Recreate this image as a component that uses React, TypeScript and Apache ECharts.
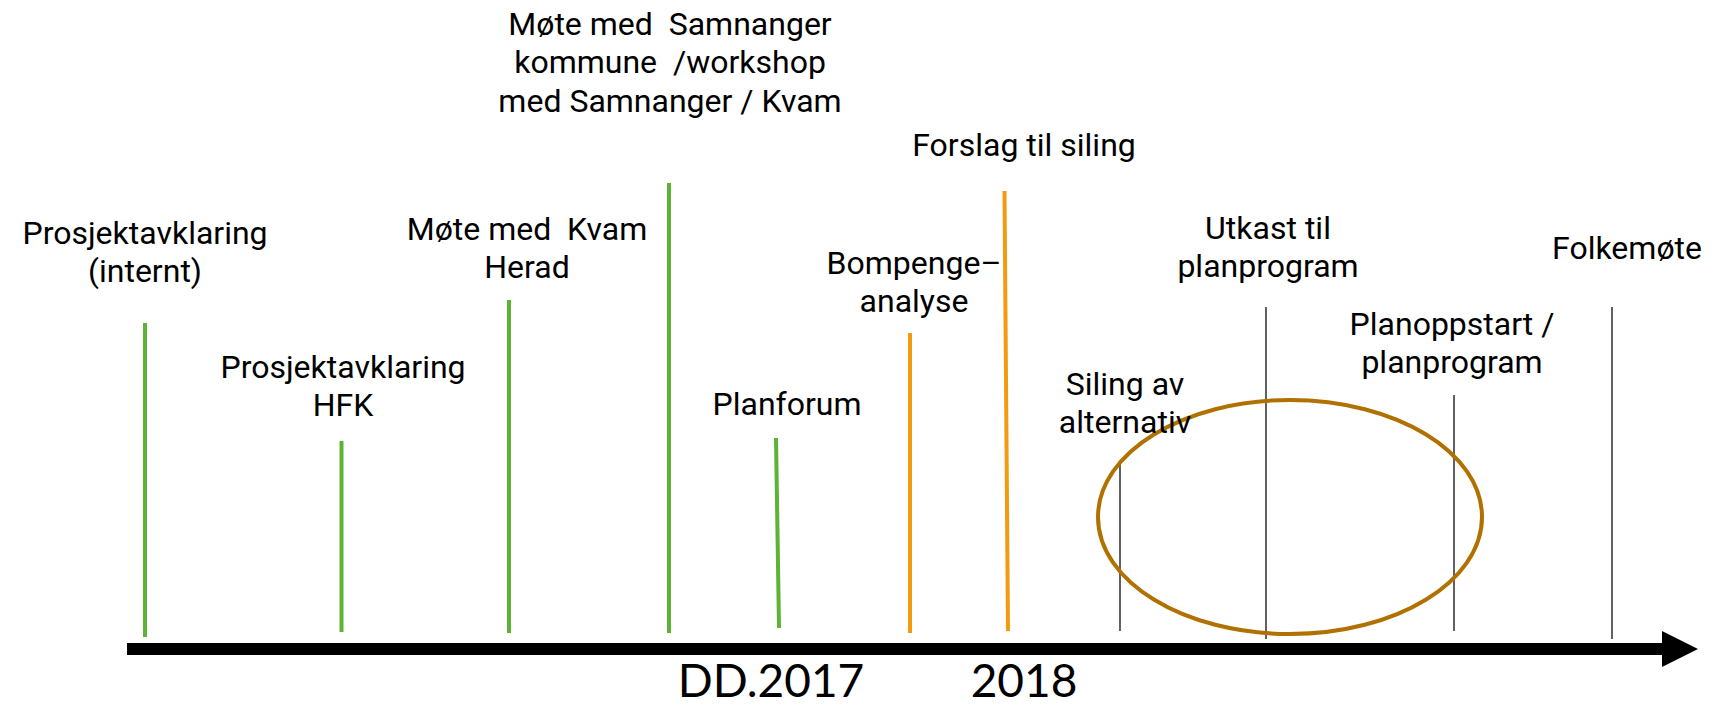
import React, { useEffect, useRef } from "react";
import * as echarts from "echarts";

// Milestones along the timeline (x = position along the arrow, y = height above the arrow)
const eventLabels = [
  "Prosjektavklaring\n(internt)",
  "Prosjektavklaring\nHFK",
  "Møte med  Kvam\nHerad",
  "Møte med  Samnanger\nkommune  /workshop\nmed Samnanger / Kvam",
  "Planforum",
  "Bompenge–\nanalyse",
  "Forslag til siling",
  "Siling av\nalternativ",
  "Utkast til\nplanprogram",
  "Planoppstart /\nplanprogram",
  "Folkemøte",
];
const lineXBottom = [18, 214.5, 382, 542, 652, 783, 881, 993, 1139, 1327, 1485];
const lineXTop = [18, 214.5, 382, 542, 649, 783, 877.5, 993, 1139, 1327, 1485];
const lineBottom = [12, 17, 16, 16, 21, 16, 18, 18, 10, 18, 10];
const lineTop = [326, 208, 349, 466, 211, 316, 458, 188, 342, 254, 342];
// 0 = gjennomført (green), 1 = bompenge/siling (orange), 2 = planlagt (dark)
const lineGroup = [0, 0, 0, 0, 0, 1, 1, 2, 2, 2, 2];
const labelX = [18, 216, 400, 543, 660, 787, 897, 998, 1141, 1325, 1500];
const labelY = [397, 263, 401, 587, 245, 367, 504, 246, 402, 306, 401];

const periodLabels = ["DD.2017", "2018"];
const periodX = [644, 897];
const periodY = [-30, -30];

const ellipseCenter = [1163, 132];
const ellipseRadius = [192, 117];

const groupColors = ["#5db333", "#f29a10", "#3a3a3a"];
const groupWidths = [4, 4, 1.6];

export default function App() {
  const ref = useRef<HTMLDivElement>(null);
  useEffect(() => {
    document.body.style.margin = "0";
    const chart = echarts.init(ref.current!, undefined, { renderer: "svg" });
    const lineData = lineXBottom.map((x, i) => [x, lineBottom[i], lineXTop[i], lineTop[i], lineGroup[i]]);
    const labelData = labelX.map((x, i) => [x, labelY[i], i]);
    const periodData = periodX.map((x, i) => [x, periodY[i], i]);
    chart.setOption({
      animation: false,
      backgroundColor: "#ffffff",
      grid: { left: 127, right: 48, top: 0, bottom: 0 },
      xAxis: {
        type: "value",
        min: 0,
        max: 1553,
        axisLine: {
          show: true,
          onZero: true,
          symbol: ["none", "triangle"],
          symbolSize: [36, 36],
          lineStyle: { color: "#000000", width: 12, cap: "butt" },
        },
        axisTick: { show: false },
        axisLabel: { show: false },
        splitLine: { show: false },
      },
      yAxis: {
        type: "value",
        min: -58,
        max: 649,
        show: false,
        splitLine: { show: false },
      },
      series: [
        {
          type: "custom",
          clip: false,
          data: lineData,
          renderItem: (params: any, api: any) => {
            const p1 = api.coord([api.value(0), api.value(1)]);
            const p2 = api.coord([api.value(2), api.value(3)]);
            const g = api.value(4);
            return {
              type: "line",
              shape: { x1: p1[0], y1: p1[1], x2: p2[0], y2: p2[1] },
              style: { stroke: groupColors[g], lineWidth: groupWidths[g] },
            };
          },
        },
        {
          type: "custom",
          clip: false,
          data: [[ellipseCenter[0], ellipseCenter[1], ellipseRadius[0], ellipseRadius[1]]],
          renderItem: (params: any, api: any) => {
            const c = api.coord([api.value(0), api.value(1)]);
            const s = api.size([api.value(2), api.value(3)]);
            return {
              type: "ellipse",
              shape: { cx: c[0], cy: c[1], rx: s[0], ry: s[1] },
              style: { fill: "none", stroke: "#b07100", lineWidth: 4 },
            };
          },
        },
        {
          type: "custom",
          clip: false,
          data: labelData,
          renderItem: (params: any, api: any) => {
            const p = api.coord([api.value(0), api.value(1)]);
            return {
              type: "text",
              x: p[0],
              y: p[1],
              style: {
                text: eventLabels[api.value(2)],
                fill: "#000000",
                fontFamily: "Roboto",
                fontSize: 32,
                lineHeight: 38.5,
                align: "center",
                verticalAlign: "middle",
              },
            };
          },
        },
        {
          type: "custom",
          clip: false,
          data: periodData,
          renderItem: (params: any, api: any) => {
            const p = api.coord([api.value(0), api.value(1)]);
            return {
              type: "text",
              x: p[0],
              y: p[1],
              style: {
                text: periodLabels[api.value(2)],
                fill: "#000000",
                fontFamily: "Lato",
                fontSize: 46,
                align: "center",
                verticalAlign: "middle",
              },
            };
          },
        },
      ],
    });
    return () => chart.dispose();
  }, []);
  return <div ref={ref} style={{ width: 1728, height: 707 }} />;
}
